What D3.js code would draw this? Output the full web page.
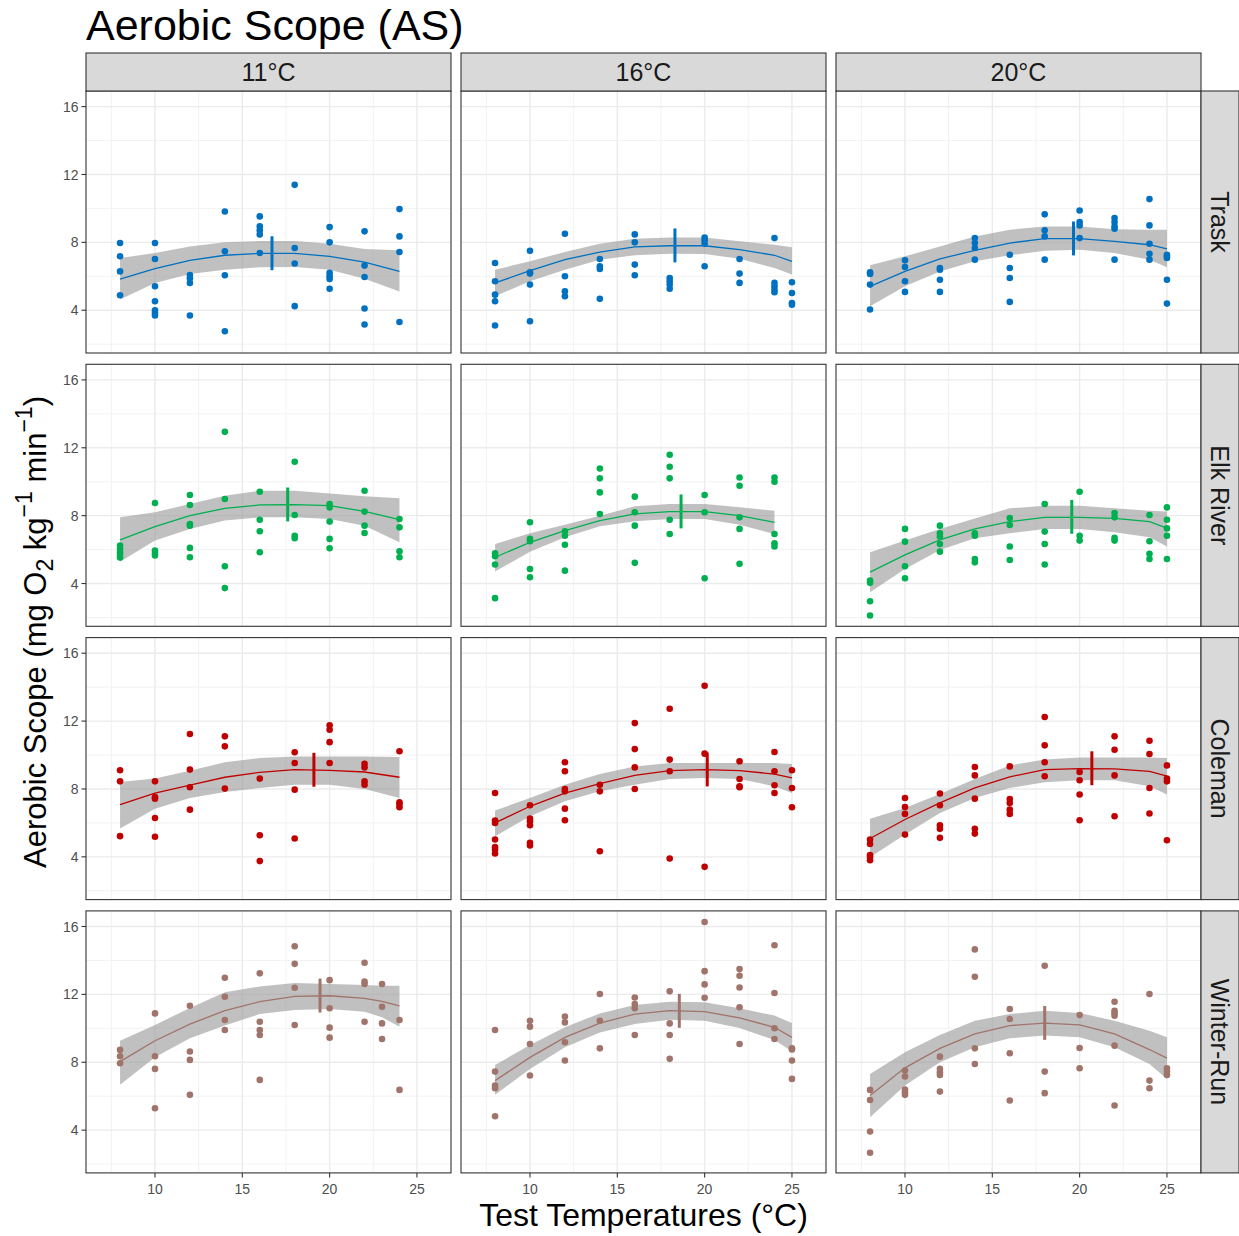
<!DOCTYPE html>
<html>
<head>
<meta charset="utf-8">
<script src="https://cdn.jsdelivr.net/npm/d3@7"></script>
<style>
  body { margin: 0; background: #fff; }
  svg { display: block; font-family: "Liberation Sans", Arial, sans-serif; }
</style>
</head>
<body>
<svg id="chart" width="1239" height="1236"></svg>
<script>
// Facet labels
const populations = ["Trask", "Elk River", "Coleman", "Winter-Run"];
const acclimations = ["11°C", "16°C", "20°C"];
const xTicks = [10, 15, 20, 25];
const yTicks = [4, 8, 12, 16];
const xLimits = [6.05, 26.95];
const yLimits = [1.48, 16.92];

// Measured aerobic scope: [test temperature, AS values...]
const trask_11 = [[8, 7.96, 7.18, 6.29, 4.88], [10, 7.96, 7.02, 5.41, 4.53, 4.0, 3.84, 3.69], [12, 6.08, 5.88, 5.61, 3.69],
  [14, 9.82, 7.47, 6.06, 2.76], [16, 9.53, 8.94, 8.71, 8.47, 7.37], [18, 11.39, 7.67, 6.75, 4.24],
  [20, 8.90, 8.0, 6.2, 6.0, 5.84, 5.27], [22, 8.65, 6.63, 5.96, 4.10, 3.16], [24, 9.96, 8.35, 7.43, 3.31]];
const trask_16 = [[8, 6.78, 5.71, 4.92, 4.53, 3.10], [10, 7.51, 6.24, 6.16, 5.51, 3.35], [12, 8.51, 6.0, 5.12, 4.82],
  [14, 7.02, 6.59, 6.43, 4.67], [16, 8.47, 8.0, 6.69, 6.06], [18, 5.90, 5.71, 5.51, 5.27], [20, 8.29, 8.12, 7.92, 6.59],
  [22, 7.02, 6.16, 5.61], [24, 8.25, 5.61, 5.41, 5.22, 5.06], [25, 5.65, 5.02, 4.43, 4.33]];
const trask_20 = [[8, 6.24, 6.14, 5.51, 4.04], [10, 6.94, 6.55, 5.71, 5.08], [12, 6.49, 6.39, 5.80, 5.08],
  [14, 8.25, 7.96, 7.67, 6.98], [16, 7.27, 6.49, 5.90, 4.49], [18, 9.65, 8.71, 8.35, 6.98], [20, 9.88, 9.2, 9.0, 8.25],
  [22, 9.43, 9.2, 8.94, 8.80, 6.98], [24, 10.55, 9.0, 7.92, 7.33, 6.98], [25, 7.27, 7.18, 7.08, 5.80, 4.39]];
const elk_11 = [[8, 6.24, 6.04, 5.84, 5.69, 5.53], [10, 8.75, 5.94, 5.80, 5.65], [12, 9.22, 8.63, 7.51, 7.41, 6.10, 5.55],
  [14, 12.94, 8.98, 5.02, 3.73], [16, 9.41, 7.76, 7.08, 5.84], [18, 11.18, 8.04, 6.82, 6.67],
  [20, 8.69, 8.49, 7.65, 6.63, 6.08], [22, 9.47, 8.24, 7.41, 6.98], [24, 7.80, 7.31, 5.90, 5.55]];
const elk_16 = [[8, 5.78, 5.61, 5.12, 3.14], [10, 7.61, 6.63, 6.49, 4.86, 4.37], [12, 7.08, 6.82, 6.29, 4.76],
  [14, 10.78, 10.2, 9.37, 8.10], [16, 9.12, 8.20, 7.41, 5.22], [18, 11.59, 10.88, 10.2, 7.76, 6.92], [20, 9.22, 8.20, 4.31],
  [22, 10.25, 9.76, 7.90, 7.22, 5.16], [24, 10.25, 10.0, 6.92, 6.37, 6.18]];
const elk_20 = [[8, 4.18, 4.04, 2.96, 2.12], [10, 7.22, 6.47, 5.02, 4.31], [12, 7.41, 6.96, 6.76, 6.33, 5.88],
  [14, 6.96, 6.82, 5.45, 5.25], [16, 7.86, 7.45, 6.18, 5.39], [18, 8.69, 7.06, 6.33, 5.12], [20, 9.41, 6.82, 6.53],
  [22, 8.16, 7.90, 6.69, 6.53], [24, 8.04, 6.49, 5.75, 5.45], [25, 8.49, 7.76, 7.25, 6.82, 5.45]];
const coleman_11 = [[8, 9.10, 8.45, 5.22], [10, 8.45, 7.53, 7.43, 6.29, 5.18], [12, 11.24, 9.14, 8.10, 6.78],
  [14, 11.10, 10.51, 8.02], [16, 8.61, 5.27, 3.75], [18, 10.16, 9.53, 7.96, 5.08], [20, 11.75, 11.49, 10.76, 9.53],
  [22, 9.49, 9.27, 8.45, 8.25], [24, 10.22, 7.22, 7.08, 6.92]];
const coleman_16 = [[8, 7.76, 6.14, 6.0, 5.02, 4.57, 4.43, 4.20], [10, 7.04, 6.25, 6.10, 5.86, 4.82, 4.67],
  [12, 9.57, 9.04, 8.0, 7.86, 6.84, 6.16], [14, 8.25, 7.86, 4.33], [16, 11.88, 10.35, 9.27, 8.0],
  [18, 12.73, 9.73, 9.04, 3.90], [20, 14.08, 10.08, 3.41], [22, 9.63, 8.59, 8.16, 8.10],
  [24, 10.18, 9.04, 8.22, 7.76], [25, 9.10, 8.06, 6.92]];
const coleman_20 = [[8, 5.02, 4.76, 4.10, 3.98, 3.80], [10, 7.47, 6.94, 6.53, 5.31], [12, 7.73, 7.04, 5.86, 5.65, 5.12],
  [14, 9.29, 8.80, 7.43, 5.65, 5.37], [16, 9.33, 7.41, 7.18, 6.78, 6.53], [18, 12.24, 10.57, 9.57, 8.75],
  [20, 9.0, 8.51, 7.67, 6.16], [22, 11.10, 10.31, 8.80, 6.39], [24, 10.84, 10.06, 8.06, 6.55], [25, 9.39, 8.61, 8.45, 4.98]];
const winter_11 = [[8, 8.73, 8.35, 7.94], [10, 10.88, 8.35, 7.61, 5.29], [12, 11.33, 8.63, 8.14, 6.08],
  [14, 12.98, 11.86, 10.49, 9.90], [16, 13.24, 10.39, 9.90, 9.61, 6.96], [18, 14.84, 13.80, 12.39, 10.20],
  [20, 12.84, 11.18, 10.04, 9.45], [22, 13.86, 12.75, 12.61, 10.39], [23, 12.61, 11.27, 10.29, 9.37], [24, 10.49, 6.37]];
const winter_16 = [[8, 9.90, 7.45, 6.63, 6.47, 4.82], [10, 10.45, 10.10, 9.08, 7.22], [12, 10.69, 10.35, 9.18, 8.10],
  [14, 12.02, 10.45, 8.82], [16, 11.82, 11.43, 11.18, 9.61], [18, 12.18, 10.29, 9.61, 8.20],
  [20, 16.27, 13.37, 12.59, 11.80], [22, 13.49, 13.10, 12.41, 11.24, 9.08], [24, 14.90, 12.08, 10.0, 9.37],
  [25, 8.82, 8.75, 8.10, 7.02]];
const winter_20 = [[8, 6.37, 5.78, 3.92, 2.67], [10, 7.51, 7.16, 6.39, 6.24, 6.08], [12, 8.33, 7.61, 7.41, 7.25, 6.27],
  [14, 14.65, 13.04, 8.82, 7.90], [16, 11.14, 10.55, 8.53, 5.75], [18, 13.69, 7.45, 6.18], [20, 10.78, 8.84, 7.65],
  [22, 11.57, 11.04, 10.90, 10.75, 8.98, 5.45], [24, 12.02, 6.92, 6.47], [25, 7.65, 7.45, 7.25]];

// Quadratic fit: [test temperature, fitted AS, lower 95% CI, upper 95% CI]
const trask_11_fit = [[8, 5.84, 4.63, 7.08], [10, 6.45, 5.61, 7.37], [12, 6.94, 6.14, 7.76], [14, 7.24, 6.39, 8.0],
  [16, 7.35, 6.53, 8.08], [18, 7.35, 6.55, 8.08], [20, 7.18, 6.39, 7.92], [22, 6.84, 5.86, 7.61], [24, 6.29, 5.10, 7.53]];
const trask_16_fit = [[8, 5.61, 4.82, 6.39], [10, 6.33, 5.71, 6.88], [12, 6.98, 6.39, 7.43], [14, 7.43, 6.98, 7.92],
  [16, 7.73, 7.24, 8.22], [18, 7.80, 7.33, 8.29], [20, 7.80, 7.31, 8.29], [22, 7.57, 7.04, 8.06], [24, 7.24, 6.49, 7.86],
  [25, 6.88, 6.10, 7.71]];
const trask_20_fit = [[8, 5.41, 4.24, 6.65], [10, 6.29, 5.41, 7.18], [12, 7.02, 6.29, 7.76], [14, 7.53, 6.88, 8.35],
  [16, 7.96, 7.24, 8.75], [18, 8.22, 7.51, 8.94], [20, 8.22, 7.57, 8.94], [22, 8.06, 7.37, 8.78], [24, 7.86, 6.98, 8.75],
  [25, 7.61, 6.53, 8.75]];
const elk_11_fit = [[8, 6.57, 5.29, 7.90], [10, 7.35, 6.53, 8.20], [12, 8.0, 7.22, 8.69], [14, 8.43, 7.71, 9.18],
  [16, 8.63, 7.90, 9.47], [18, 8.65, 7.90, 9.47], [20, 8.59, 7.80, 9.31], [22, 8.25, 7.41, 9.14], [24, 7.76, 6.43, 9.02]];
const elk_16_fit = [[8, 5.55, 4.71, 6.33], [10, 6.43, 5.88, 6.96], [12, 7.12, 6.73, 7.47], [14, 7.71, 7.37, 8.0],
  [16, 8.10, 7.67, 8.55], [18, 8.24, 7.80, 8.69], [20, 8.24, 7.80, 8.69], [22, 8.0, 7.47, 8.49], [24, 7.61, 6.92, 8.29]];
const elk_20_fit = [[8, 4.67, 3.49, 5.84], [10, 5.69, 4.86, 6.53], [12, 6.57, 5.98, 7.22], [14, 7.22, 6.67, 7.84],
  [16, 7.65, 6.96, 8.43], [18, 7.90, 7.22, 8.59], [20, 7.90, 7.22, 8.59], [22, 7.84, 7.02, 8.43], [24, 7.65, 6.73, 8.29],
  [25, 7.27, 6.18, 8.25]];
const coleman_11_fit = [[8, 7.08, 5.67, 8.41], [10, 7.76, 6.84, 8.61], [12, 8.22, 7.47, 9.08], [14, 8.69, 7.82, 9.57],
  [16, 8.98, 8.06, 9.82], [18, 9.14, 8.25, 9.92], [20, 9.10, 8.25, 9.92], [22, 9.0, 8.0, 9.92], [24, 8.69, 7.47, 9.88]];
const coleman_16_fit = [[8, 6.0, 5.22, 6.73], [10, 6.98, 6.39, 7.47], [12, 7.76, 7.27, 8.25], [14, 8.31, 7.86, 8.88],
  [16, 8.80, 8.25, 9.33], [18, 9.08, 8.59, 9.53], [20, 9.14, 8.65, 9.53], [22, 9.08, 8.59, 9.53], [24, 8.88, 8.16, 9.53],
  [25, 8.65, 7.76, 9.47]];
const coleman_20_fit = [[8, 5.08, 3.98, 6.25], [10, 6.20, 5.31, 6.88], [12, 7.18, 6.59, 7.71], [14, 8.06, 7.47, 8.59],
  [16, 8.71, 8.06, 9.39], [18, 9.14, 8.39, 9.73], [20, 9.20, 8.51, 9.86], [22, 9.18, 8.51, 9.86], [24, 9.04, 8.16, 9.86],
  [25, 8.75, 7.67, 9.82]];
const winter_11_fit = [[8, 8.04, 6.67, 9.27], [10, 9.27, 8.29, 10.20], [12, 10.25, 9.41, 11.20], [14, 11.04, 10.16, 12.12],
  [16, 11.57, 10.84, 12.47], [18, 11.88, 11.08, 12.67], [20, 11.92, 11.14, 12.61], [22, 11.76, 10.98, 12.55],
  [23, 11.59, 10.65, 12.51], [24, 11.33, 10.10, 12.51]];
const winter_16_fit = [[8, 6.92, 6.08, 7.84], [10, 8.29, 7.61, 9.02], [12, 9.47, 8.88, 10.06], [14, 10.31, 9.76, 10.88],
  [16, 10.84, 10.25, 11.37], [18, 11.04, 10.51, 11.57], [20, 10.98, 10.45, 11.53], [22, 10.61, 10.02, 11.18],
  [24, 10.06, 9.31, 10.75], [25, 9.47, 8.65, 10.31]];
const winter_20_fit = [[8, 6.04, 4.76, 7.31], [10, 7.67, 6.63, 8.59], [12, 8.82, 8.0, 9.61], [14, 9.67, 8.88, 10.45],
  [16, 10.16, 9.41, 10.84], [18, 10.31, 9.57, 11.04], [20, 10.20, 9.47, 10.90], [22, 9.67, 8.88, 10.45],
  [24, 8.75, 7.90, 9.86], [25, 8.24, 7.02, 9.47]];

// Optimum temperature and peak AS of each fit (rows: population, columns: acclimation)
const peakTemp = [[16.7, 18.3, 19.65], [17.6, 18.65, 19.55], [19.1, 20.15, 20.7], [19.45, 18.55, 18.0]];
const peakAS = [[7.36, 7.82, 8.23], [8.66, 8.25, 7.93], [9.13, 9.15, 9.22], [11.93, 11.03, 10.32]];
const peakHalfWidth = 1;

const pointSets = [[trask_11, trask_16, trask_20], [elk_11, elk_16, elk_20],
  [coleman_11, coleman_16, coleman_20], [winter_11, winter_16, winter_20]];
const fitSets = [[trask_11_fit, trask_16_fit, trask_20_fit], [elk_11_fit, elk_16_fit, elk_20_fit],
  [coleman_11_fit, coleman_16_fit, coleman_20_fit], [winter_11_fit, winter_16_fit, winter_20_fit]];

// Styling
const popColours = ["#0070C0", "#00B050", "#C00000", "#A0746A"];
const gridLeft = 86, gridTop = 91, panelW = 365, panelH = 262, gapX = 10, gapY = 11.3, stripSize = 38;

const svg = d3.select("#chart");
const x = d3.scaleLinear().domain(xLimits).range([0, panelW]);
const y = d3.scaleLinear().domain(yLimits).range([panelH, 0]);
const xMinor = xTicks.map(t => t - 2.5).filter(t => t > xLimits[0]);
const yMinor = yTicks.map(t => t - 2).filter(t => t > yLimits[0]);

const area = d3.area().x(d => x(d[0])).y0(d => y(d[2])).y1(d => y(d[3]));
const line = d3.line().x(d => x(d[0])).y(d => y(d[1]));

populations.forEach((pop, r) => {
  acclimations.forEach((acc, c) => {
    const px = gridLeft + c * (panelW + gapX);
    const py = gridTop + r * (panelH + gapY);
    const g = svg.append("g").attr("transform", `translate(${px},${py})`);
    const col = popColours[r];

    g.append("rect").attr("width", panelW).attr("height", panelH).attr("fill", "#fff");
    // minor grid
    g.selectAll(".xm").data(xMinor).join("line")
      .attr("x1", d => x(d)).attr("x2", d => x(d)).attr("y1", 0).attr("y2", panelH)
      .attr("stroke", "#F2F2F2").attr("stroke-width", 1);
    g.selectAll(".ym").data(yMinor).join("line")
      .attr("y1", d => y(d)).attr("y2", d => y(d)).attr("x1", 0).attr("x2", panelW)
      .attr("stroke", "#F2F2F2").attr("stroke-width", 1);
    // major grid
    g.selectAll(".xM").data(xTicks).join("line")
      .attr("x1", d => x(d)).attr("x2", d => x(d)).attr("y1", 0).attr("y2", panelH)
      .attr("stroke", "#EBEBEB").attr("stroke-width", 1.4);
    g.selectAll(".yM").data(yTicks).join("line")
      .attr("y1", d => y(d)).attr("y2", d => y(d)).attr("x1", 0).attr("x2", panelW)
      .attr("stroke", "#EBEBEB").attr("stroke-width", 1.4);

    const fit = fitSets[r][c];
    g.append("path").datum(fit).attr("d", area).attr("fill", "#999").attr("fill-opacity", 0.62);

    const pts = pointSets[r][c].flatMap(row => row.slice(1).map(v => [row[0], v]));
    g.selectAll(".pt").data(pts).join("circle")
      .attr("cx", d => x(d[0])).attr("cy", d => y(d[1])).attr("r", 3.3).attr("fill", col);

    g.append("path").datum(fit).attr("d", line).attr("fill", "none").attr("stroke", col).attr("stroke-width", 1.3);

    const pt = peakTemp[r][c], pa = peakAS[r][c];
    g.append("line").attr("x1", x(pt)).attr("x2", x(pt))
      .attr("y1", y(pa - peakHalfWidth)).attr("y2", y(pa + peakHalfWidth))
      .attr("stroke", col).attr("stroke-width", 3);

    g.append("rect").attr("width", panelW).attr("height", panelH)
      .attr("fill", "none").attr("stroke", "#333").attr("stroke-width", 1.1);

    // y axis on the first column
    if (c === 0) {
      yTicks.forEach(t => {
        g.append("line").attr("x1", -4.5).attr("x2", 0).attr("y1", y(t)).attr("y2", y(t))
          .attr("stroke", "#333").attr("stroke-width", 1.1);
        g.append("text").attr("x", -7.5).attr("y", y(t)).attr("dy", "0.36em")
          .attr("text-anchor", "end").attr("font-size", 14).attr("fill", "#4D4D4D").text(t);
      });
    }
    // x axis on the last row
    if (r === populations.length - 1) {
      xTicks.forEach(t => {
        g.append("line").attr("x1", x(t)).attr("x2", x(t)).attr("y1", panelH).attr("y2", panelH + 4.5)
          .attr("stroke", "#333").attr("stroke-width", 1.1);
        g.append("text").attr("x", x(t)).attr("y", panelH + 21)
          .attr("text-anchor", "middle").attr("font-size", 14).attr("fill", "#4D4D4D").text(t);
      });
    }
    // column strips
    if (r === 0) {
      svg.append("rect").attr("x", px).attr("y", gridTop - stripSize).attr("width", panelW).attr("height", stripSize)
        .attr("fill", "#D9D9D9").attr("stroke", "#333").attr("stroke-width", 1.1);
      svg.append("text").attr("x", px + panelW / 2).attr("y", gridTop - stripSize / 2).attr("dy", "0.36em")
        .attr("text-anchor", "middle").attr("font-size", 25).attr("fill", "#1A1A1A").text(acc);
    }
    // row strips
    if (c === acclimations.length - 1) {
      const sx = px + panelW;
      svg.append("rect").attr("x", sx).attr("y", py).attr("width", stripSize).attr("height", panelH)
        .attr("fill", "#D9D9D9").attr("stroke", "#333").attr("stroke-width", 1.1);
      svg.append("text").attr("transform", `translate(${sx + stripSize / 2},${py + panelH / 2}) rotate(90)`)
        .attr("dy", "0.36em").attr("text-anchor", "middle").attr("font-size", 25).attr("fill", "#1A1A1A").text(pop);
    }
  });
});

// Titles
svg.append("text").attr("x", 86).attr("y", 40).attr("font-size", 43).attr("fill", "#000").text("Aerobic Scope (AS)");

const gridBottom = gridTop + populations.length * panelH + (populations.length - 1) * gapY;
const gridRight = gridLeft + acclimations.length * panelW + (acclimations.length - 1) * gapX;
svg.append("text").attr("x", (gridLeft + gridRight) / 2).attr("y", 1226)
  .attr("text-anchor", "middle").attr("font-size", 32).attr("fill", "#000").text("Test Temperatures (°C)");

const yTitle = svg.append("text")
  .attr("transform", `translate(46,${(gridTop + gridBottom) / 2}) rotate(-90)`)
  .attr("text-anchor", "middle").attr("font-size", 31).attr("fill", "#000");
yTitle.append("tspan").text("Aerobic Scope (mg O");
yTitle.append("tspan").attr("font-size", 23).attr("baseline-shift", "-0.3em").text("2");
yTitle.append("tspan").text(" kg");
yTitle.append("tspan").attr("font-size", 23).attr("baseline-shift", "0.6em").text("\u22121");
yTitle.append("tspan").text(" min");
yTitle.append("tspan").attr("font-size", 23).attr("baseline-shift", "0.6em").text("\u22121");
yTitle.append("tspan").text(")");
</script>
</body>
</html>
